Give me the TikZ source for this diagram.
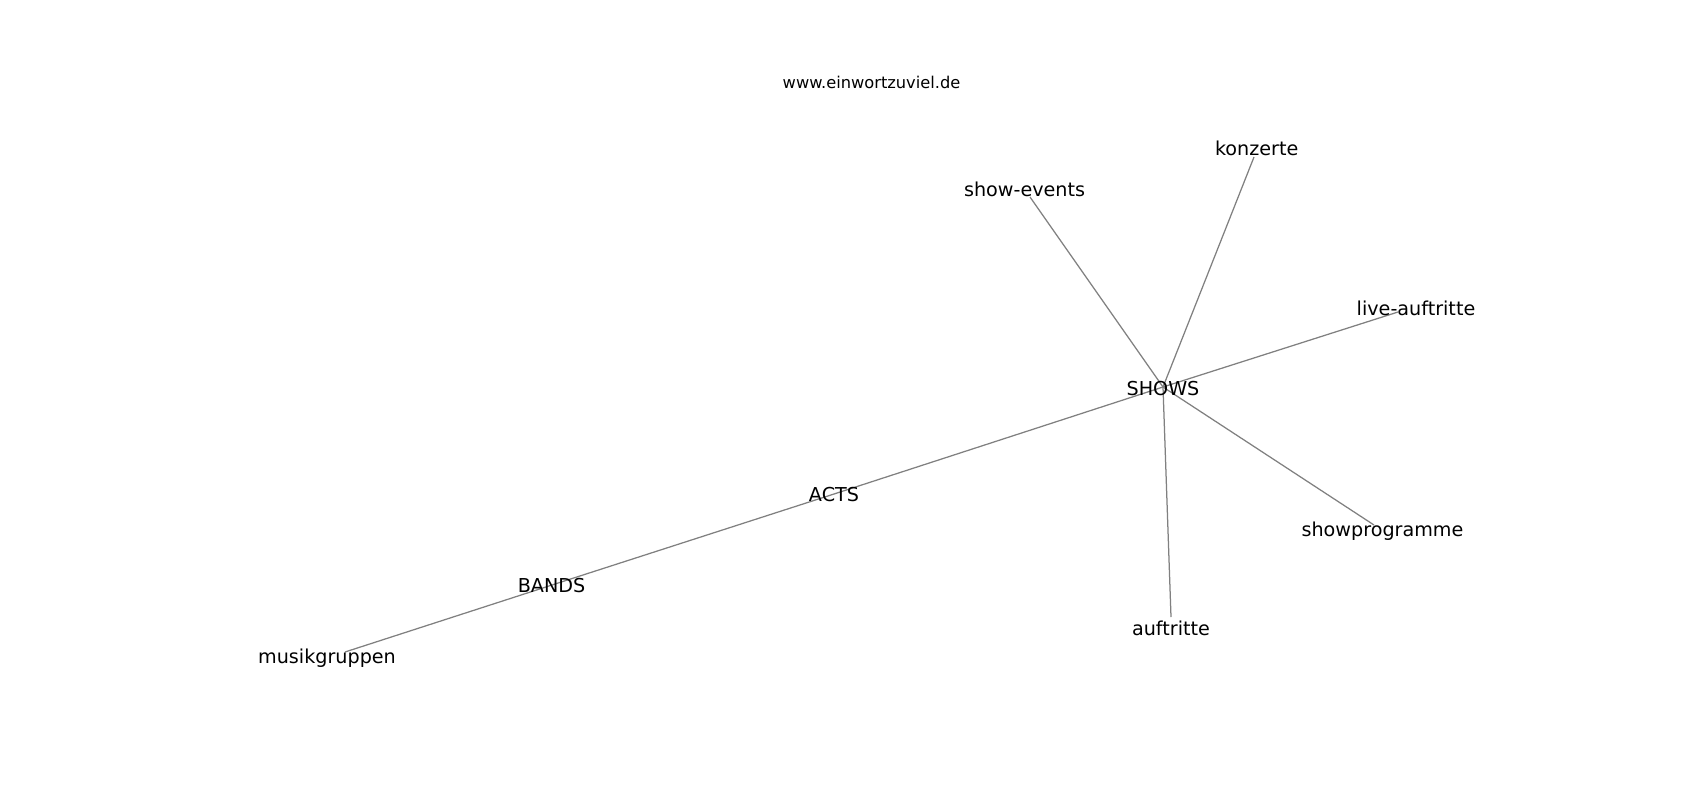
\documentclass[tikz,border=0pt]{standalone}
\usepackage{fontspec}
\setmainfont{DejaVu Sans}
\usetikzlibrary{positioning}

\begin{document}
\begin{tikzpicture}[x=0.72pt, y=-0.72pt,
  edge/.style={draw=gray, line width=0.9pt},
  word/.style={anchor=base, inner sep=0pt, font=\fontsize{13.8}{16}\selectfont}]

  % Fix the page to the size of the reference
  \useasboundingbox (0,0) rectangle (1700,800);

  % Define the points of the graph
  \coordinate (shows) at (1163,387);
  \coordinate (acts) at (834,494);
  \coordinate (bands) at (552,585);
  \coordinate (musik) at (345,652);
  \coordinate (events) at (1030,197);
  \coordinate (konz) at (1254,157);
  \coordinate (live) at (1398,312);
  \coordinate (prog) at (1374,525);
  \coordinate (auft) at (1171,617);

  % Draw the chain from musikgruppen to SHOWS
  \draw[edge] (musik) -- (bands);
  \draw[edge] (bands) -- (acts);
  \draw[edge] (acts) -- (shows);

  % Draw the spokes around SHOWS
  \draw[edge] (shows) -- (events);
  \draw[edge] (shows) -- (konz);
  \draw[edge] (shows) -- (live);
  \draw[edge] (shows) -- (prog);
  \draw[edge] (shows) -- (auft);

  % Add the labels where they appear
  \node[anchor=base, inner sep=0pt, font=\fontsize{11.7}{14}\selectfont] (url) at (871.5,88) {www.einwortzuviel.de};
  \node[word] (showsL) at (1163,395) {SHOWS};
  \node[word] (actsL) at (834,501.5) {ACTS};
  \node[word] (bandsL) at (551.6,592.5) {BANDS};
  \node[word] (musikL) at (327,663) {musikgruppen};
  \node[word] (eventsL) at (1024.6,196) {show-events};
  \node[word] (konzL) at (1256.7,155) {konzerte};
  \node[word] (liveL) at (1416,315) {live-auftritte};
  \node[word] (progL) at (1382.5,536.5) {showprogramme};
  \node[word] (auftL) at (1171,635) {auftritte};

\end{tikzpicture}
\end{document}
